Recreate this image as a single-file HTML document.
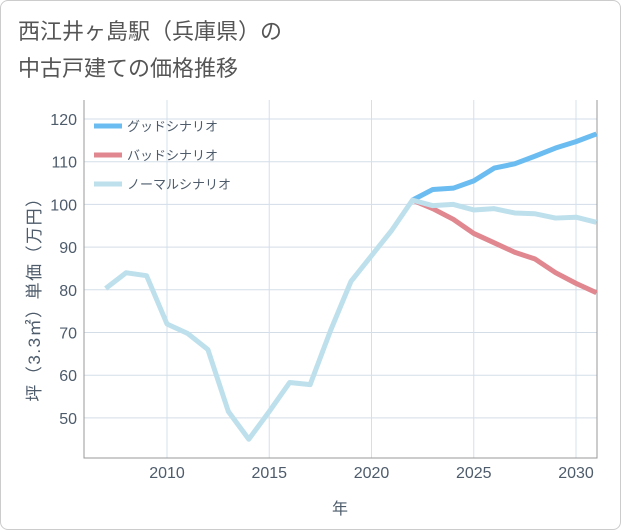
<!DOCTYPE html>
<html><head><meta charset="utf-8"><style>
body{margin:0;background:#fff;font-family:"Liberation Sans","Noto Sans CJK JP",sans-serif;}
.card{position:absolute;left:0;top:0;width:619px;height:528px;border:1px solid #ccc;border-radius:8px;background:#fff}
.title{position:absolute;left:18px;top:13px;font-size:22px;color:#555;line-height:37px}
</style></head><body>
<div class="card"></div>
<div class="title">西江井ヶ島駅（兵庫県）の<br>中古戸建ての価格推移</div>
<svg width="621" height="530" style="position:absolute;left:0;top:0" id="chart"></svg>
<script>
const normalYears=[2007,2008,2009,2010,2011,2012,2013,2014,2015,2016,2017,2018,2019,2020,2021,2022,2023,2024,2025,2026,2027,2028,2029,2030,2031];
const normalValues=[80.3,84,83.3,72,69.8,66,51.5,45,51.5,58.3,57.8,70.5,82,88,94,101,99.7,100,98.7,99,98,97.8,96.8,97,95.8];
const scenarioYears=[2022,2023,2024,2025,2026,2027,2028,2029,2030,2031];
const goodValues=[101,103.5,103.8,105.5,108.5,109.5,111.3,113.2,114.7,116.5];
const badValues=[101,99,96.5,93.2,91,88.8,87.2,84,81.5,79.3];
const xTicks=[2010,2015,2020,2025,2030];
const yTicks=[50,60,70,80,90,100,110,120];
const X0=84,X1=597,Y0=100,Y1=458;
const TC='#4d5b6b';
const x=y=>167+(y-2010)*20.45;
const yv=v=>119+(120-v)*4.27;
const svg=document.getElementById('chart');
const NS='http://www.w3.org/2000/svg';
function mk(t,a){const e=document.createElementNS(NS,t);for(const k in a)e.setAttribute(k,a[k]);svg.appendChild(e);return e;}
yTicks.forEach(v=>{
 const l=mk('line',{x1:X0,x2:X1,y1:yv(v),y2:yv(v),stroke:'#d3dde8','stroke-width':1});
 
 
 const t=mk('text',{x:77,y:yv(v)+6,'text-anchor':'end','font-size':16,fill:TC});t.textContent=v;
 
 
});
xTicks.forEach(v=>{
 const l=mk('line',{x1:x(v),x2:x(v),y1:Y0,y2:Y1,stroke:'#d3e0ec','stroke-width':1});
 
 
 const t=mk('text',{x:x(v),y:478,'text-anchor':'middle','font-size':16,fill:TC});t.textContent=v;
 
 
});
const ax=mk('path',{d:`M${X0} ${Y0}V${Y1}H${X1}V${Y0}`,fill:'none',stroke:'#999','stroke-width':1});


function line(xs,vs,c,n){const p=mk('polyline',{points:xs.map((a,i)=>x(a)+','+yv(vs[i])).join(' '),fill:'none',stroke:c,'stroke-width':5,'stroke-linejoin':'round'});
 
 }
line(scenarioYears,goodValues,'#6bbcf0','good-scenario-line');
line(scenarioYears,badValues,'#e0878f','bad-scenario-line');
line(normalYears,normalValues,'#bde0ec','normal-scenario-line');
[['グッドシナリオ','#6bbcf0',126],['バッドシナリオ','#e0878f',155],['ノーマルシナリオ','#bde0ec',184]].forEach(([n,c,yy])=>{
 const l=mk('line',{x1:94,x2:122,y1:yy,y2:yy,stroke:c,'stroke-width':5});
 
 
 const t=mk('text',{x:127,y:yy+5,'font-size':13,fill:TC});t.textContent=n;
 
 
});
const yt=mk('text',{x:0,y:0,'font-size':17,'letter-spacing':1.5,fill:TC,'text-anchor':'middle',transform:'translate(40,295) rotate(-90)'});yt.textContent='坪（3.3㎡）単価（万円）';


const xt=mk('text',{x:340,y:514,'font-size':16,fill:TC,'text-anchor':'middle'});xt.textContent='年';


</script>
</body></html>
